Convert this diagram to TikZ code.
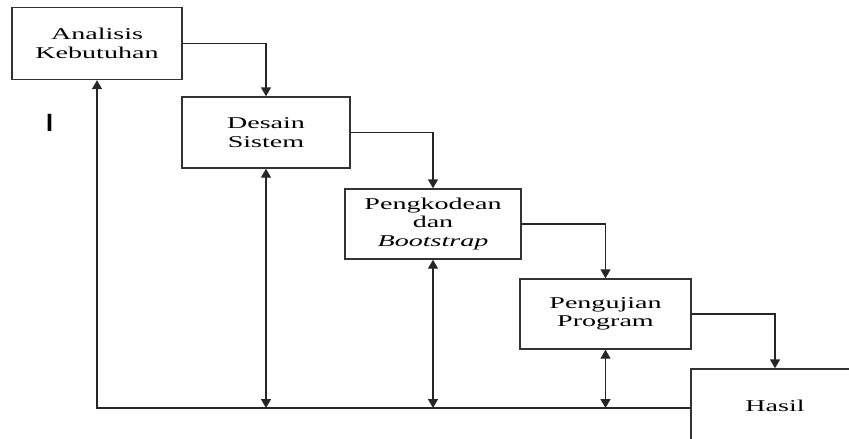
\documentclass[tikz,border=0pt]{standalone}
\usepackage{fontspec}
\setmainfont{Liberation Serif}
\newfontfamily\wideserif[FakeStretch=1.7]{Liberation Serif}
\newfontfamily\barfont{Liberation Sans}
\usetikzlibrary{arrows.meta}
\begin{document}
\begin{tikzpicture}[x=1pt,y=-1pt,
  stepbox/.style={draw=black!80, line width=1.4pt, rectangle, inner sep=0pt, align=center,
    font=\wideserif\fontsize{16.5}{18.5}\selectfont},
  conn/.style={draw=black!85, line width=1.4pt},
  arr/.style={conn, -{Triangle[width=10pt,length=9pt]}},
  darr/.style={conn, {Triangle[width=10pt,length=9pt]}-{Triangle[width=10pt,length=9pt]}}]
\useasboundingbox (0,0) rectangle (849,439);
\clip (0,0) rectangle (849,439);
\node[stepbox, minimum width=170pt, minimum height=72pt] (b1) at (97,43.5) {Analisis\\Kebutuhan};
\node[stepbox, minimum width=168pt, minimum height=71pt] (b2) at (266,132.5) {Desain\\Sistem};
\node[stepbox, minimum width=176pt, minimum height=70pt] (b3) at (433,224) {Pengkodean\\dan\\\textit{Bootstrap}};
\node[stepbox, minimum width=171pt, minimum height=70pt] (b4) at (605.5,314) {Pengujian\\Program};
\node[stepbox, minimum width=168pt, minimum height=74pt] (b5) at (775,406) {Hasil};
\node[font=\barfont\bfseries\fontsize{25}{25}\selectfont, inner sep=0pt] (stray) at (49.5,122.5) {I};
\coordinate (hl) at (b5.west |- 0,408);
\coordinate (fb) at (b1.south |- hl);
\draw[arr] (b1.east) -| (b2.north);
\draw[arr] (b2.east) -| (b3.north);
\draw[arr] (b3.east) -| (b4.north);
\draw[arr] (b4.east) -| (b5.north);
\draw[arr] (hl) -- (fb) -- (b1.south);
\draw[darr] (b2.south) -- (b2.south |- hl);
\draw[darr] (b3.south) -- (b3.south |- hl);
\draw[darr] (b4.south) -- (b4.south |- hl);
\end{tikzpicture}
\end{document}
